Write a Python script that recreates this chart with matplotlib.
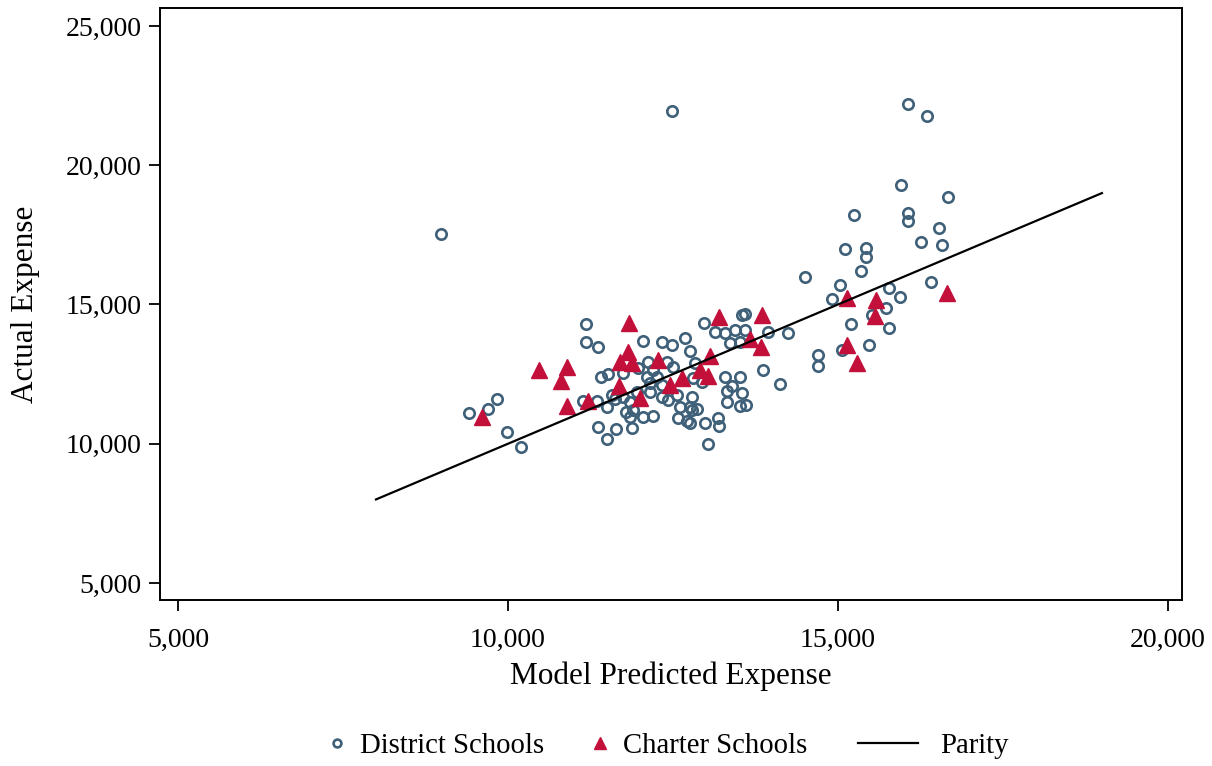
import matplotlib
matplotlib.use("Agg")
import matplotlib.pyplot as plt
from matplotlib.ticker import FuncFormatter

plt.rcParams['font.family'] = ['Liberation Serif', 'DejaVu Serif']

# District schools: (model predicted, actual)
district_x = [8985, 9410, 9700, 9830, 9985, 10200, 12485,
              11182, 11182, 11364, 11136, 11348, 11500, 11364, 11636, 11500,
              11409, 11515, 11742, 11576, 11621, 11742, 11788, 11894, 11848,
              11879, 11955, 11970, 12045, 12106, 12121, 12152, 12152, 12197,
              12258, 12333, 12333, 12409, 12500, 12485, 12682, 12758, 11848,
              12045, 12197, 12333, 12424, 12561, 12606, 12788, 12758, 12576,
              12712, 12788, 12864, 12803, 12939, 12833, 12970, 13136, 13288,
              13439, 13545, 13591, 13591, 13939, 14242, 13364, 13515, 13864,
              14121, 13288, 13515, 13394, 13318, 13545, 13318, 13515, 13606,
              12758, 12985, 13182, 13197, 13030,
              14500, 14697, 14697, 15030, 14909, 15348, 15424, 15424, 15106,
              15242, 15772, 15939, 15727, 15515, 15197, 15772, 15470, 15061,
              16409, 16061, 16348, 15955, 16667, 16061, 16061, 16530, 16258,
              16576]
district_y = [17530, 11100, 11250, 11610, 10420, 9880, 21950,
              14300, 13653, 13474, 11535, 11535, 11319, 10601, 10529, 10170,
              12397, 12504, 12540, 11750, 11607, 11679, 11140, 11212, 10960,
              10565, 11858, 12720, 13689, 12397, 12935, 12181, 11858, 12648,
              12397, 13653, 12109, 12935, 12756, 13546, 13797, 13330, 11499,
              10960, 10996, 11679, 11571, 11750, 11319, 11679, 11319, 10924,
              10817, 11212, 11248, 12361, 12217, 12899, 14336, 14012, 13977,
              14084, 14623, 14659, 14084, 14012, 13977, 13617, 13653, 12648,
              12145, 12397, 12397, 12073, 11894, 11822, 11499, 11355, 11391,
              10745, 10745, 10924, 10637, 9991,
              15987, 13187, 12792, 15700, 15197, 16203, 16705, 17029, 16993,
              18214, 15592, 15269, 14874, 14623, 14300, 14156, 13546, 13366,
              15808, 22199, 21768, 19291, 18860, 18285, 17998, 17747, 17244,
              17136]

# Charter schools
charter_x = [9606, 10470, 10894, 10803, 10894, 11212, 11682, 11697, 11833,
             11818, 11879, 12000, 12273, 12455, 12636, 12909, 13030, 13061,
             13197, 13667, 13833, 13848, 15136, 15576, 15561, 15136, 15288,
             16652]
charter_y = [10960, 12648, 12756, 12253, 11355, 11535, 12073, 12935, 14336,
             13294, 12899, 11643, 13007, 12109, 12361, 12648, 12433, 13151,
             14551, 13761, 13474, 14623, 15233, 15161, 14587, 13546, 12899,
             15413]

parity = [8000, 19000]

fig = plt.figure(figsize=(12.12, 7.66), dpi=100)
ax = fig.add_axes([0.132, 0.2167, 0.8432, 0.7729])

d, = ax.plot(district_x, district_y, linestyle='none', marker='o', markersize=7.5,
             markerfacecolor='none', markeredgecolor='#3f6079', markeredgewidth=1.9)
c, = ax.plot(charter_x, charter_y, linestyle='none', marker='^', markersize=12,
             color='#c2103a')
p, = ax.plot(parity, parity, color='black', linewidth=1.6)

ax.set_xlim(4727, 20212)
ax.set_ylim(4389, 25646)
ax.set_xticks([5000, 10000, 15000, 20000])
ax.set_yticks([5000, 10000, 15000, 20000, 25000])
fmt = FuncFormatter(lambda v, pos: f'{int(v):,}')
ax.xaxis.set_major_formatter(fmt)
ax.yaxis.set_major_formatter(fmt)
ax.tick_params(direction='out', length=8, width=1.3, labelsize=20)
ax.tick_params(axis='x', pad=12)
ax.tick_params(axis='y', pad=5)
for s in ax.spines.values():
    s.set_linewidth(1.4)

ax.set_xlabel('Model Predicted Expense', fontsize=22.5, labelpad=6)
ax.set_ylabel('Actual Expense', fontsize=22.5, labelpad=19)

# legend entries placed one by one, as in the original
common = dict(loc='center left', frameon=False, fontsize=20.7, borderpad=0,
              borderaxespad=0)
fig.legend([d], ['District Schools'], bbox_to_anchor=(0.2662, 0.026),
           handlelength=1.0, handletextpad=0.3, markerscale=0.75, **common)
fig.legend([c], ['Charter Schools'], bbox_to_anchor=(0.4832, 0.026),
           handlelength=1.0, handletextpad=0.3, markerscale=0.75, **common)
fig.legend([p], ['Parity'], bbox_to_anchor=(0.7079, 0.026),
           handlelength=2.09, handletextpad=0.77, **common)

fig.savefig('out.png', dpi=100)
